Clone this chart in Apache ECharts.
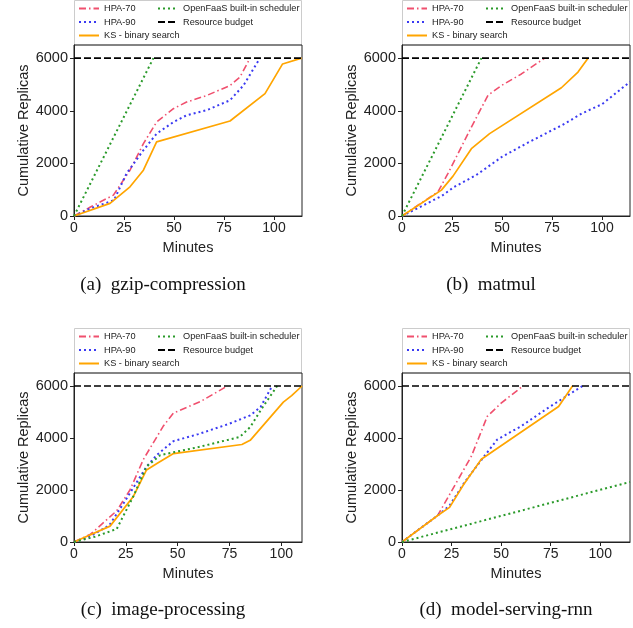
<!DOCTYPE html>
<html>
<head>
<meta charset="utf-8">
<script src="https://cdn.jsdelivr.net/npm/echarts@6/dist/echarts.min.js"></script>
<style>
  html, body { margin: 0; padding: 0; background: #fff; }
  #main { width: 633px; height: 628px; }
</style>
</head>
<body>
<div id="main"></div>
<script>
// values, [minute, cumulative replicas]
var budget = 6000;
var xMax = [114, 114, 110, 115];
var xTicks = [0, 25, 50, 75, 100];
var yTicks = [0, 2000, 4000, 6000];
var captions = ['(a)  gzip-compression', '(b)  matmul', '(c)  image-processing', '(d)  model-serving-rnn'];
var seriesNames = ['HPA-70', 'HPA-90', 'KS - binary search', 'OpenFaaS built-in scheduler', 'Resource budget'];

var gzipHpa70 = [[0, 0], [8, 330], [19.7, 795], [28, 1740], [34.7, 2750], [41.3, 3570], [49.7, 4080], [56.3, 4330], [66.3, 4580], [78, 4960], [83, 5280], [88, 6000]];
var gzipHpa90 = [[0, 0], [8, 280], [20, 600], [26.3, 1620], [34.7, 2500], [41.3, 3130], [49.7, 3570], [56.3, 3830], [66.3, 4020], [78, 4400], [84.7, 4960], [93, 6000]];
var gzipKs = [[0, 0], [18, 480], [28, 1110], [34.7, 1740], [41.3, 2820], [78, 3610], [95.5, 4650], [104.3, 5780], [113.8, 6000]];
var gzipOpenfaas = [[0, 0], [39.7, 6000]];

var matmulHpa70 = [[0, 0], [18, 920], [23, 1620], [28, 2370], [34.7, 3380], [43, 4590], [49.7, 4960], [59.7, 5400], [71.3, 6000]];
var matmulHpa90 = [[0, 0], [10, 380], [20, 770], [26, 1100], [37, 1550], [50, 2250], [62, 2750], [75, 3260], [80, 3450], [90, 3900], [100, 4250], [114, 5100]];
var matmulKs = [[0, 0], [19.7, 985], [25.5, 1515], [34.7, 2560], [43.8, 3130], [79.7, 4875], [88, 5470], [93, 6000]];
var matmulOpenfaas = [[0, 0], [39.7, 6000]];

var imageHpa70 = [[0, 0], [8, 300], [20.6, 1200], [27, 2000], [33.5, 3180], [43, 4450], [48, 4960], [61, 5400], [74, 6000]];
var imageHpa90 = [[0, 0], [8, 230], [17, 640], [24, 1500], [35, 2900], [40, 3350], [48, 3880], [60, 4150], [75, 4550], [85, 4870], [90, 5190], [95.6, 6000]];
var imageKs = [[0, 0], [17.4, 610], [28.7, 1760], [35, 2770], [40, 3020], [48, 3400], [81, 3750], [85, 3910], [101, 5380], [105, 5630], [110, 6000]];
var imageOpenfaas = [[0, 0], [10, 200], [20.6, 500], [28.7, 1770], [35, 2900], [41.6, 3340], [48, 3450], [60, 3650], [80, 4040], [85, 4420], [90, 5060], [98, 6000]];

var rnnHpa70 = [[0, 0], [18, 1020], [26.5, 2160], [35, 3300], [43, 4830], [50, 5340], [61, 6000]];
var rnnHpa90 = [[0, 0], [18, 1020], [24, 1400], [31.5, 2290], [40, 3150], [48, 3940], [60, 4450], [73.5, 5150], [91, 6000]];
var rnnKs = [[0, 0], [18, 1020], [24, 1330], [31, 2200], [40, 3180], [79, 5210], [86, 6000]];
var rnnOpenfaas = [[0, 0], [115, 2310]];

var panels = [
  [gzipHpa70, gzipHpa90, gzipKs, gzipOpenfaas],
  [matmulHpa70, matmulHpa90, matmulKs, matmulOpenfaas],
  [imageHpa70, imageHpa90, imageKs, imageOpenfaas],
  [rnnHpa70, rnnHpa90, rnnKs, rnnOpenfaas]
];

var styles = [
  { color: '#f0506e', width: 1.6, type: [7, 3, 1.5, 3] },
  { color: '#3a3af2', width: 2, type: [2, 3] },
  { color: '#ffa500', width: 1.7, type: 'solid' },
  { color: '#2a9a2a', width: 2, type: [2, 3] },
  { color: '#000000', width: 1.7, type: [7, 3] }
];

// panel boxes: left, top of plot area
var boxes = [
  { left: 74, top: 45, height: 171, capX: 163, capY: 285, legTop: 0 },
  { left: 402, top: 45, height: 171, capX: 491, capY: 285, legTop: 0 },
  { left: 74, top: 373, height: 169, capX: 163, capY: 610, legTop: 328 },
  { left: 402, top: 373, height: 169, capX: 506, capY: 610, legTop: 328 }
];
var plotW = 228;

var chartDom = document.getElementById('main');
var myChart = echarts.init(chartDom);

var grid = [], xAxis = [], yAxis = [], series = [], legend = [], graphic = [];

function plain(v) {
  return String(v);
}

boxes.forEach(function (b, i) {
  grid.push({
    left: b.left, top: b.top, width: plotW, height: b.height,
    show: true, borderColor: '#222', borderWidth: 1, backgroundColor: 'transparent'
  });
  xAxis.push({
    gridIndex: i, type: 'value', min: 0, max: xMax[i],
    name: 'Minutes', nameLocation: 'middle', nameGap: 24,
    nameTextStyle: { fontFamily: 'Liberation Sans', fontSize: 14.5, color: '#222' },
    axisLine: { lineStyle: { color: '#222', width: 1 } },
    axisTick: { show: true, length: 4, lineStyle: { color: '#222' }, customValues: xTicks },
    axisLabel: { fontFamily: 'Liberation Sans', fontSize: 14, color: '#222', margin: 5, customValues: xTicks, formatter: plain },
    splitLine: { show: false }
  });
  yAxis.push({
    gridIndex: i, type: 'value', min: 0, max: 6500,
    name: 'Cumulative Replicas', nameLocation: 'middle', nameGap: 43,
    nameTextStyle: { fontFamily: 'Liberation Sans', fontSize: 14.5, color: '#222' },
    axisLine: { show: true, lineStyle: { color: '#222', width: 1 } },
    axisTick: { show: true, length: 4, lineStyle: { color: '#222' }, customValues: yTicks },
    axisLabel: { fontFamily: 'Liberation Sans', fontSize: 14.5, color: '#222', margin: 6, customValues: yTicks, formatter: plain },
    splitLine: { show: false }
  });

  var data = panels[i].concat([[[0, budget], [xMax[i], budget]]]);
  data.forEach(function (d, k) {
    series.push({
      name: seriesNames[k], type: 'line', xAxisIndex: i, yAxisIndex: i,
      data: d, symbol: 'none', showSymbol: false, silent: true, animation: false,
      lineStyle: styles[k], itemStyle: { color: styles[k].color },
      z: 2 + k
    });
  });

  // two-column legend, column-first like matplotlib
  var legBase = {
    orient: 'vertical', padding: 0, itemGap: 4.5, itemWidth: 20, itemHeight: 10,
    itemStyle: { opacity: 0 },
    textStyle: { fontFamily: 'Liberation Sans', fontSize: 9.2, color: '#222' },
    selectedMode: false
  };
  legend.push(Object.assign({}, legBase, {
    left: b.left + 4, top: b.legTop + 4,
    data: seriesNames.slice(0, 3)
  }));
  legend.push(Object.assign({}, legBase, {
    left: b.left + 83, top: b.legTop + 4,
    data: seriesNames.slice(3)
  }));

  graphic.push({
    type: 'rect', silent: true,
    shape: { x: b.left + 0.5, y: b.legTop + 0.5, width: plotW - 1, height: b.top - b.legTop - 0.5 },
    style: { fill: '#fff', stroke: '#cccccc', lineWidth: 1 },
    z: -1
  });
  graphic.push({
    type: 'text', x: b.capX, y: b.capY,
    style: {
      text: captions[i], fontFamily: 'Liberation Serif', fontSize: 19,
      fill: '#111', align: 'center', verticalAlign: 'middle'
    }
  });
});

var option = {
  animation: false,
  backgroundColor: '#fff',
  grid: grid,
  xAxis: xAxis,
  yAxis: yAxis,
  legend: legend,
  series: series,
  graphic: graphic
};

option && myChart.setOption(option);
</script>
</body>
</html>
